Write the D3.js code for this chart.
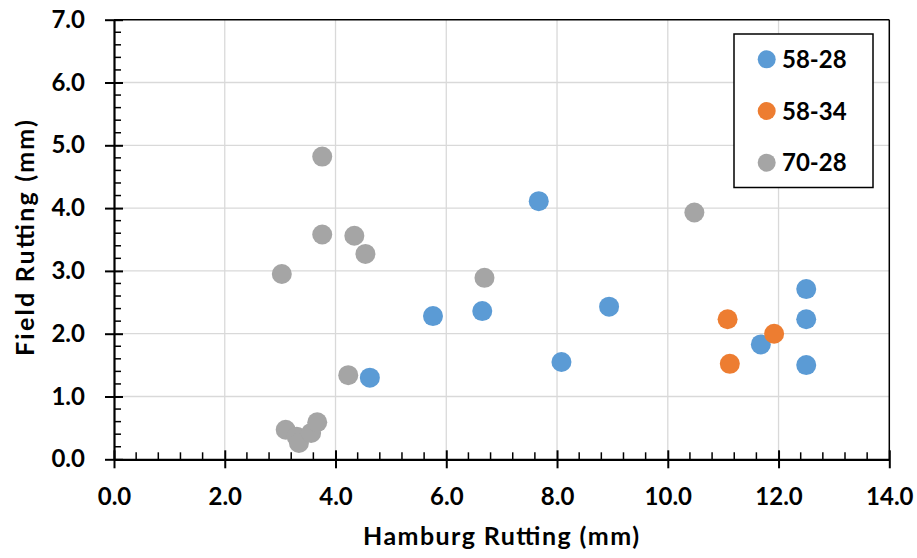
<!DOCTYPE html>
<html><head><meta charset="utf-8">
<script src="https://cdn.jsdelivr.net/npm/d3@7"></script>
<style>body{margin:0;background:#fff}svg{display:block}text{font-family:Lato,"Open Sans",sans-serif;font-weight:bold;fill:#000}</style>
</head><body><svg id="c" width="917" height="558"></svg>
<script>
const seriesNames = ["58-28", "58-34", "70-28"];
const seriesColors = ["#5B9BD5", "#ED7D31", "#A5A5A5"];
const hamburg5828 = [4.62, 5.76, 6.65, 7.67, 8.08, 8.94, 11.68, 12.50, 12.50, 12.50];
const field5828   = [1.30, 2.28, 2.36, 4.11, 1.55, 2.43, 1.83, 2.71, 2.23, 1.50];
const hamburg5834 = [11.08, 11.12, 11.92];
const field5834   = [2.23, 1.52, 2.00];
const hamburg7028 = [3.76, 3.76, 4.34, 4.54, 3.03, 6.69, 10.48, 4.23, 3.10, 3.30, 3.34, 3.56, 3.67];
const field7028   = [4.82, 3.58, 3.56, 3.27, 2.95, 2.89, 3.93, 1.34, 0.47, 0.36, 0.26, 0.42, 0.59];
const xTicks = [0, 2, 4, 6, 8, 10, 12, 14];
const yTicks = [0, 1, 2, 3, 4, 5, 6, 7];
const xTitle = "Hamburg Rutting (mm)";
const yTitle = "Field Rutting (mm)";

const svg = d3.select("#c");
const L = 114, R = 889.3, T = 19.7, B = 459.3;
const x = d3.scaleLinear().domain([0, 14]).range([L, R]);
const y = d3.scaleLinear().domain([0, 7]).range([B, T]);

// gridlines
const g = svg.append("g");
g.selectAll(".gx").data(xTicks.slice(1, -1)).enter().append("line")
  .attr("x1", d => x(d)).attr("x2", d => x(d)).attr("y1", T).attr("y2", B)
  .attr("stroke", "#d9d9d9").attr("stroke-width", 1.3);
g.selectAll(".gy").data(yTicks.slice(1, -1)).enter().append("line")
  .attr("y1", d => y(d)).attr("y2", d => y(d)).attr("x1", L).attr("x2", R)
  .attr("stroke", "#d9d9d9").attr("stroke-width", 1.3);

// frame top/right
svg.append("line").attr("x1", L).attr("x2", R).attr("y1", T).attr("y2", T).attr("stroke", "#000").attr("stroke-width", 1.5);
svg.append("line").attr("x1", R).attr("x2", R).attr("y1", T).attr("y2", B).attr("stroke", "#000").attr("stroke-width", 1.5);

// minor ticks
const xMinor = d3.range(0, 14.001, 0.4).filter(v => Math.abs(v / 2 - Math.round(v / 2)) > 1e-6);
const yMinor = d3.range(0, 7.001, 0.2).filter(v => Math.abs(v - Math.round(v)) > 1e-6);
svg.selectAll(".mx").data(xMinor).enter().append("line")
  .attr("x1", d => x(d)).attr("x2", d => x(d)).attr("y1", B).attr("y2", B - 7)
  .attr("stroke", "#000").attr("stroke-width", 1.5);
svg.selectAll(".my").data(yMinor).enter().append("line")
  .attr("y1", d => y(d)).attr("y2", d => y(d)).attr("x1", L).attr("x2", L + 7)
  .attr("stroke", "#000").attr("stroke-width", 1.5);

// axes
const xAxis = d3.axisBottom(x).tickValues(xTicks).tickFormat(d3.format(".1f")).tickSizeInner(9).tickSizeOuter(0).tickPadding(20);
const yAxis = d3.axisLeft(y).tickValues(yTicks).tickFormat(d3.format(".1f")).tickSizeInner(9).tickSizeOuter(0).tickPadding(20);
const gx = svg.append("g").attr("transform", `translate(0,${B})`).call(xAxis);
const gy = svg.append("g").attr("transform", `translate(${L},0)`).call(yAxis);
[gx, gy].forEach(a => {
  a.select(".domain").attr("stroke", "#000").attr("stroke-width", 2.2);
  a.selectAll(".tick line").attr("stroke", "#000").attr("stroke-width", 2);
  a.selectAll(".tick text").style("font-size", "24px").style("font-family", "Lato").style("font-weight", "bold").attr("fill", "#000");
});
gx.selectAll(".tick line").attr("y1", -9);
gy.selectAll(".tick line").attr("x1", 9);
gx.selectAll(".tick text").attr("dy", "0.71em").attr("y", 29);
gy.selectAll(".tick text").attr("x", -29);

// axis titles
svg.append("text").attr("x", 501).attr("y", 545).attr("text-anchor", "middle")
  .attr("textLength", 276).attr("lengthAdjust", "spacing")
  .style("font-size", "25px").text(xTitle);
svg.append("text").attr("transform", `translate(34,238) rotate(-90)`).attr("text-anchor", "middle")
  .attr("textLength", 236).attr("lengthAdjust", "spacing")
  .style("font-size", "25px").text(yTitle);

// points
const series = [
  {xs: hamburg5828, ys: field5828, c: seriesColors[0]},
  {xs: hamburg5834, ys: field5834, c: seriesColors[1]},
  {xs: hamburg7028, ys: field7028, c: seriesColors[2]}
];
series.forEach(s => {
  svg.append("g").selectAll("circle").data(s.xs.map((v, i) => [v, s.ys[i]])).enter().append("circle")
    .attr("cx", d => x(d[0])).attr("cy", d => y(d[1])).attr("r", 10).attr("fill", s.c);
});

// legend
const lg = svg.append("g");
lg.append("rect").attr("x", 734).attr("y", 34).attr("width", 139).attr("height", 153.5)
  .attr("fill", "#fff").attr("stroke", "#000").attr("stroke-width", 1.5);
const ly = [59.3, 111, 162.7];
seriesNames.forEach((n, i) => {
  lg.append("circle").attr("cx", 766.7).attr("cy", ly[i]).attr("r", 9).attr("fill", seriesColors[i]);
  lg.append("text").attr("x", 782).attr("y", ly[i]).attr("dy", "0.36em").style("font-size", "24px").text(n);
});
</script></body></html>
